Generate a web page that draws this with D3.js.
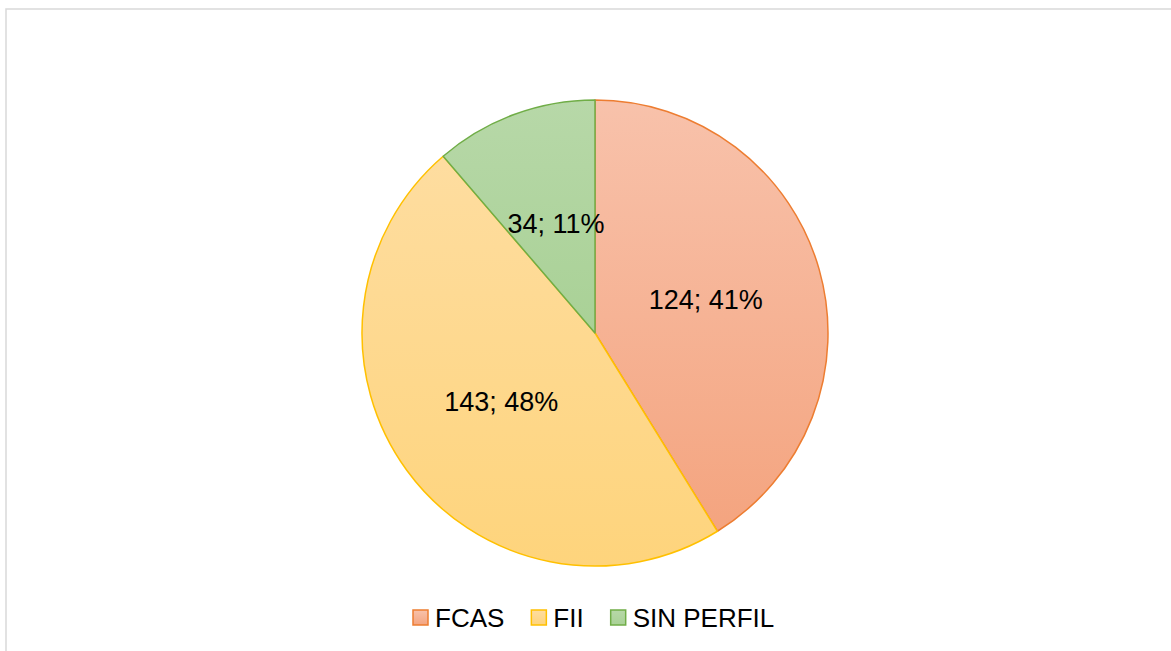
<!DOCTYPE html>
<html>
<head>
<meta charset="utf-8">
<script src="https://cdn.jsdelivr.net/npm/d3@7"></script>
<style>
  body { margin: 0; background: #ffffff; }
  text { font-family: "Liberation Sans", Arial, sans-serif; }
</style>
</head>
<body>
<div id="chart"></div>
<script>

// --- Daten ------------------------------------------------------------------- //
var categories = ['FCAS', 'FII', 'SIN PERFIL'];
var values = [124, 143, 34];
var percents = ['41%', '48%', '11%'];
var strokeColors = ['#ED7D31', '#FFC000', '#70AD47'];
var topColors = ['#F8C2AB', '#FEDDA0', '#B7D8A8'];
var bottomColors = ['#F4A47F', '#FED47C', '#A9D196'];

var width = 1171, height = 651;

var svg = d3.select('#chart').append('svg')
    .attr('width', width)
    .attr('height', height);

// Rahmen
svg.append('rect')
    .attr('x', 6)
    .attr('y', 9)
    .attr('width', width + 10)
    .attr('height', height + 10)
    .attr('fill', '#ffffff')
    .attr('stroke', '#d9d9d9')
    .attr('stroke-width', 1.5);

var defs = svg.append('defs');
for (var i = 0; i < categories.length; i++) {
    var grad = defs.append('linearGradient')
        .attr('id', 'grad' + i)
        .attr('x1', 0).attr('y1', 0)
        .attr('x2', 0).attr('y2', 1);
    grad.append('stop').attr('offset', '0%').attr('stop-color', topColors[i]);
    grad.append('stop').attr('offset', '100%').attr('stop-color', bottomColors[i]);
}

// --- Kreis ------------------------------------------------------------------- //
var cx = 595, cy = 333, radius = 233;

var pie = d3.pie().sort(null).value(function(d) { return d; });
var arcs = pie(values);
var arc = d3.arc().innerRadius(0).outerRadius(radius);

var g = svg.append('g').attr('transform', 'translate(' + cx + ',' + cy + ')');

g.selectAll('path.slice')
    .data(arcs)
    .enter().append('path')
    .attr('class', 'slice')
    .attr('d', arc)
    .attr('fill', function(d, i) { return 'url(#grad' + i + ')'; })
    .attr('stroke', function(d, i) { return strokeColors[i]; })
    .attr('stroke-width', 1.5)
    .attr('stroke-linejoin', 'round');

var labelArc = d3.arc().innerRadius(radius * 0.53).outerRadius(radius * 0.53);
var labelOffsets = [[-8, 1], [6, -4], [4, 7]];

g.selectAll('text.lbl')
    .data(arcs)
    .enter().append('text')
    .attr('class', 'lbl')
    .attr('transform', function(d, i) {
        var c = labelArc.centroid(d);
        return 'translate(' + (c[0] + labelOffsets[i][0]) + ',' + (c[1] + labelOffsets[i][1]) + ')';
    })
    .attr('text-anchor', 'middle')
    .attr('dominant-baseline', 'central')
    .style('font-size', '27px')
    .attr('fill', '#000000')
    .text(function(d, i) { return values[i] + '; ' + percents[i]; });

// --- Legende ----------------------------------------------------------------- //
var legend = svg.append('g');
var lx = 413;

for (var k = 0; k < categories.length; k++) {
    legend.append('rect')
        .attr('x', lx)
        .attr('y', 610)
        .attr('width', 15)
        .attr('height', 15)
        .attr('fill', 'url(#grad' + k + ')')
        .attr('stroke', strokeColors[k])
        .attr('stroke-width', 1.5);

    var t = legend.append('text')
        .attr('x', lx + 22)
        .attr('y', 618)
        .attr('dominant-baseline', 'central')
        .style('font-size', '26px')
        .attr('fill', '#000000')
        .text(categories[k]);

    lx = lx + 22 + t.node().getComputedTextLength() + 27;
}

</script>
</body>
</html>
